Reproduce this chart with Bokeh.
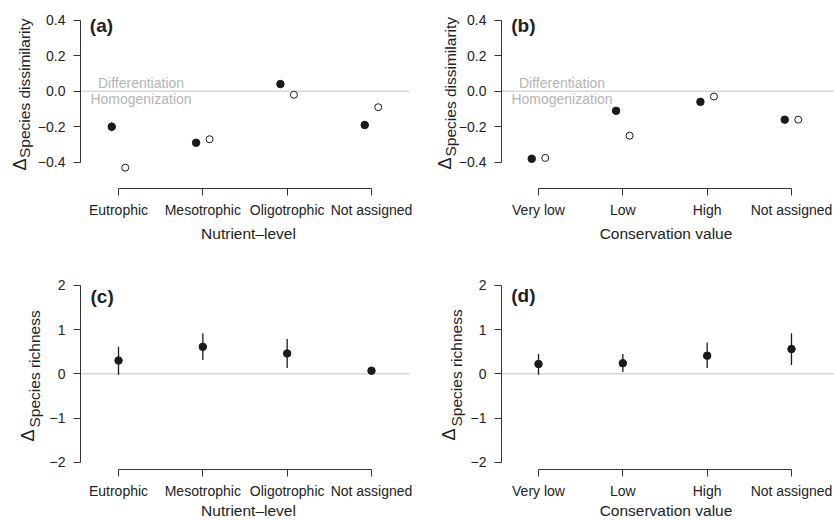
import math
from bokeh.plotting import figure
from bokeh.models import FixedTicker, Range1d
from bokeh.layouts import gridplot
from bokeh.embed import file_html
from bokeh.resources import INLINE
from bokeh.core.properties import value

# ---------------- data ----------------
nutrient_levels = ["Eutrophic", "Mesotrophic", "Oligotrophic", "Not assigned"]
conservation_values = ["Very low", "Low", "High", "Not assigned"]

# (a) change in species dissimilarity by nutrient level
a_filled = [-0.20, -0.29, 0.04, -0.19]
a_filled_err = [0.025, 0.01, 0.01, 0.01]
a_open = [-0.43, -0.27, -0.02, -0.09]

# (b) change in species dissimilarity by conservation value
b_filled = [-0.38, -0.11, -0.06, -0.16]
b_filled_err = [0.022, 0.01, 0.01, 0.01]
b_open = [-0.375, -0.25, -0.03, -0.16]

# (c) change in species richness by nutrient level
c_mean = [0.30, 0.61, 0.46, 0.07]
c_low = [-0.02, 0.31, 0.13, 0.04]
c_high = [0.61, 0.92, 0.79, 0.10]

# (d) change in species richness by conservation value
d_mean = [0.22, 0.24, 0.41, 0.56]
d_low = [-0.02, 0.04, 0.13, 0.20]
d_high = [0.45, 0.45, 0.71, 0.92]

dissim_ticks = [-0.4, -0.2, 0.0, 0.2, 0.4]
dissim_tick_labels = ["\u22120.4", "\u22120.2", "0.0", "0.2", "0.4"]
rich_ticks = [-2, -1, 0, 1, 2]
rich_tick_labels = ["\u22122", "\u22121", "0", "1", "2"]
cat_ticks = [1, 2, 3, 4]

# ---------------- style ----------------
FONT = "Liberation Sans"
TEXT = "#222222"
AXIS = "#333333"
PT = "#1a1a1a"
ZERO = "#c4c4c4"
NOTE = "#b4b4b4"
DODGE = 0.08
W, H = 417, 260


class Panel:
    """One panel: a figure whose frame is the whole canvas; axes sit at fixed locations."""

    def __init__(self, ax_px, t1_px, xs, zero_px, ys, xaxis_px, xlabels, yticks, ylabels):
        self.xs, self.ys, self.zero_px = xs, ys, zero_px
        self.x0 = 1 - t1_px / xs
        y1 = zero_px / ys
        p = figure(width=W, height=H,
                   x_range=Range1d(self.x0, self.x0 + W / xs),
                   y_range=Range1d(y1 - H / ys, y1),
                   output_backend="svg", toolbar_location=None, title=None,
                   min_border=0, min_border_left=0, min_border_right=0,
                   min_border_top=0, min_border_bottom=0)
        p.xgrid.visible = False
        p.ygrid.visible = False
        p.outline_line_color = None
        p.background_fill_color = "white"
        p.border_fill_color = "white"
        self.p = p
        self.ax_px = ax_px

        p.xaxis.ticker = FixedTicker(ticks=cat_ticks)
        p.xaxis.major_label_overrides = dict(zip(cat_ticks, xlabels))
        p.yaxis.ticker = FixedTicker(ticks=yticks)
        p.yaxis.major_label_overrides = dict(zip(yticks, ylabels))
        p.xaxis.bounds = (cat_ticks[0], cat_ticks[-1])
        p.yaxis.bounds = (yticks[0], yticks[-1])
        p.xaxis.fixed_location = self.Y(xaxis_px)
        p.yaxis.fixed_location = self.X(ax_px)
        for ax in (p.xaxis, p.yaxis):
            ax.axis_line_color = AXIS
            ax.axis_line_width = 1
            ax.major_tick_line_color = AXIS
            ax.major_tick_out = 7
            ax.major_tick_in = 0
            ax.minor_tick_line_color = None
            ax.major_label_text_font = FONT
            ax.major_label_text_font_size = "14px"
            ax.major_label_text_color = TEXT
        p.xaxis.major_label_standoff = 6
        p.yaxis.major_label_standoff = 8

    def X(self, px):
        return self.x0 + px / self.xs

    def Y(self, py):
        return (self.zero_px - py) / self.ys

    def zero_line(self, right_px):
        self.p.segment(x0=[self.X(self.ax_px)], y0=[0], x1=[self.X(right_px)], y1=[0],
                       line_color=ZERO, line_width=1)

    def text(self, px, py, s, size, color=TEXT, align="left", angle=0.0, style="normal"):
        self.p.text(x=[self.X(px)], y=[self.Y(py)], text=[s], angle=angle,
                    text_align=align, text_baseline="middle",
                    text_font=value(FONT), text_font_size=size, text_font_style=style,
                    text_color=color)

    def ylabel(self, sub, d_cx, d_cy, s_cx, s_start):
        self.text(d_cx, d_cy, "\u0394", "18px", align="center", angle=math.pi / 2)
        self.text(s_cx, s_start, sub, "15.5px", align="left", angle=math.pi / 2)

    def notes(self, cx):
        self.text(cx, 82.4, "Differentiation", "14px", color=NOTE, align="center")
        self.text(cx, 98.4, "Homogenization", "14px", color=NOTE, align="center")

    def dissim_points(self, filled, err, opened):
        p = self.p
        xf = [c - DODGE for c in cat_ticks]
        xo = [c + DODGE for c in cat_ticks]
        p.segment(x0=xf, y0=[v - e for v, e in zip(filled, err)], x1=xf,
                  y1=[v + e for v, e in zip(filled, err)], line_color=PT, line_width=1.3)
        p.scatter(x=xf, y=filled, marker="circle", size=7.5, fill_color=PT, line_color=PT)
        p.scatter(x=xo, y=opened, marker="circle", size=7, fill_color="white",
                  line_color=PT, line_width=1)

    def rich_points(self, mean, low, high):
        p = self.p
        p.segment(x0=cat_ticks, y0=low, x1=cat_ticks, y1=high, line_color=PT, line_width=1.3)
        p.scatter(x=cat_ticks, y=mean, marker="circle", size=7.5, fill_color=PT, line_color=PT)


XS = 84.33          # px per category step
YS_TOP = 177.9      # px per unit of dissimilarity
YS_BOT = 44.2       # px per unit of richness

# (a)
A = Panel(80, 118, XS, 90.7, YS_TOP, 188, nutrient_levels, dissim_ticks, dissim_tick_labels)
A.zero_line(409)
A.notes(140.5)
A.dissim_points(a_filled, a_filled_err, a_open)
A.ylabel("Species dissimilarity", 19.5, 164, 23.5, 157.5)
A.text(248, 232.5, "Nutrient\u2013level", "15.5px", align="center")
A.text(89.3, 25, "(a)", "19px", style="bold")

# (b)
B = Panel(84, 121, XS, 90.7, YS_TOP, 188, conservation_values, dissim_ticks, dissim_tick_labels)
B.zero_line(W)
B.notes(144.5)
B.dissim_points(b_filled, b_filled_err, b_open)
B.ylabel("Species dissimilarity", 27, 163, 33, 156)
B.text(248.5, 232.5, "Conservation value", "15.5px", align="center")
B.text(93.7, 25, "(b)", "19px", style="bold")

# (c)
C = Panel(80, 118, XS, 113.3, YS_BOT, 209, nutrient_levels, rich_ticks, rich_tick_labels)
C.zero_line(409)
C.rich_points(c_mean, c_low, c_high)
C.ylabel("Species richness", 27.5, 175, 34, 167)
C.text(248, 249.5, "Nutrient\u2013level", "15.5px", align="center")
C.text(90, 36, "(c)", "19px", style="bold")

# (d)
D = Panel(84, 121, XS, 113.3, YS_BOT, 209, conservation_values, rich_ticks, rich_tick_labels)
D.zero_line(W)
D.rich_points(d_mean, d_low, d_high)
D.ylabel("Species richness", 31, 174, 38.5, 166)
D.text(248.5, 249.5, "Conservation value", "15.5px", align="center")
D.text(93.7, 35, "(d)", "19px", style="bold")

grid = gridplot([[A.p, B.p], [C.p, D.p]], toolbar_location=None)

open("out.html", "w").write(file_html(grid, INLINE))
